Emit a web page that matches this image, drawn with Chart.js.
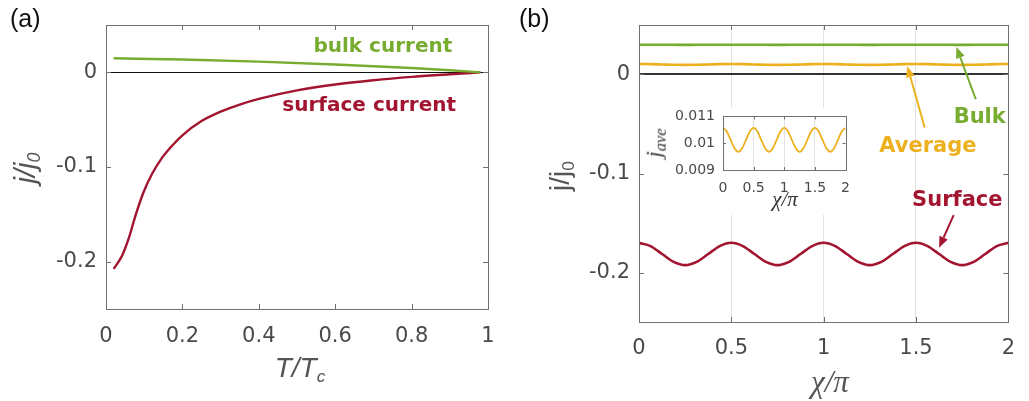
<!DOCTYPE html>
<html>
<head>
<meta charset="utf-8">
<title>surface and bulk current</title>
<script src="https://cdn.jsdelivr.net/npm/chart.js@4.4.1/dist/chart.umd.min.js"></script>
<style>
  body { margin: 0; background: #fff; width: 1029px; height: 401px; position: relative; overflow: hidden; font-family: "Liberation Sans", Arial, sans-serif; }
  .panel { position: absolute; }
  .lbl { position: absolute; white-space: nowrap; line-height: 1; color: #555; }
  .rot { transform: translate(-50%, -50%) rotate(-90deg); }
  .ctr { transform: translate(-50%, -50%); }
  .sub { font-size: 0.62em; vertical-align: -0.3em; }
  .serif { font-family: "Liberation Serif", "DejaVu Serif", serif; font-style: italic; }
</style>
</head>
<body>
<div class="panel" style="left:0;top:0;width:510px;height:401px"><canvas id="chart-a" width="510" height="401"></canvas></div>
<div class="panel" style="left:520px;top:0;width:509px;height:401px"><canvas id="chart-b" width="509" height="401"></canvas></div>
<div class="panel" style="left:655px;top:100px;width:205px;height:115px"><canvas id="chart-inset" width="205" height="115"></canvas></div>

<div class="lbl" style="left:10px;top:6px;font-size:25px;color:#111">(a)</div>
<div class="lbl" style="left:519px;top:6px;font-size:25px;color:#111">(b)</div>
<div class="lbl rot" style="left:27px;top:168px;font-size:29px;font-style:italic">j/j<span class="sub">0</span></div>
<div class="lbl ctr" style="left:300px;top:370px;font-size:28px;font-style:italic">T/T<span class="sub">c</span></div>
<div class="lbl rot" style="left:562px;top:176px;font-size:28px">j/j<span class="sub">0</span></div>
<div class="lbl ctr serif" style="left:830px;top:381px;font-size:31px">χ/π</div>
<div class="lbl rot serif" style="left:656px;top:143px;font-size:22px;color:#333">j<span class="sub" style="font-size:0.75em">ave</span></div>
<div class="lbl ctr serif" style="left:785px;top:199px;font-size:21px;color:#333">χ/π</div>

<script>
// ---- panel (a): current vs temperature ----
const tempX = [0.02, 0.042, 0.059, 0.077, 0.098, 0.12, 0.147, 0.173, 0.2, 0.25, 0.3, 0.35, 0.4, 0.5, 0.6, 0.7, 0.8, 0.9, 0.98];
const surfaceVsT = [-0.2077, -0.1937, -0.176, -0.1516, -0.127, -0.1077, -0.0901, -0.0775, -0.0665, -0.0515, -0.0415, -0.034, -0.028, -0.019, -0.0128, -0.0083, -0.0048, -0.0021, 0];
const bulkTempX = [0.02, 0.2, 0.4, 0.6, 0.8, 0.9, 0.98];
const bulkVsT = [0.0148, 0.0135, 0.0113, 0.0082, 0.0045, 0.0022, 0];
const aXTicks = [0, 0.2, 0.4, 0.6, 0.8, 1];
const aYTicks = [-0.2, -0.1, 0];

// ---- panel (b): current vs phase chi/pi ----
const chi = [0, 0.0625, 0.125, 0.1875, 0.25, 0.3125, 0.375, 0.4375,
  0.5, 0.5625, 0.625, 0.6875, 0.75, 0.8125, 0.875, 0.9375,
  1, 1.0625, 1.125, 1.1875, 1.25, 1.3125, 1.375, 1.4375,
  1.5, 1.5625, 1.625, 1.6875, 1.75, 1.8125, 1.875, 1.9375, 2];
const surfaceVsChi = [-0.1700, -0.1733, -0.1813, -0.1892, -0.1925, -0.1892, -0.1813, -0.1733,
  -0.1700, -0.1733, -0.1813, -0.1892, -0.1925, -0.1892, -0.1813, -0.1733,
  -0.1700, -0.1733, -0.1813, -0.1892, -0.1925, -0.1892, -0.1813, -0.1733,
  -0.1700, -0.1733, -0.1813, -0.1892, -0.1925, -0.1892, -0.1813, -0.1733, -0.1700];
const bulkVsChi = [0.0301, 0.0301, 0.0300, 0.0300, 0.0299, 0.0300, 0.0300, 0.0301,
  0.0301, 0.0301, 0.0300, 0.0300, 0.0299, 0.0300, 0.0300, 0.0301,
  0.0301, 0.0301, 0.0300, 0.0300, 0.0299, 0.0300, 0.0300, 0.0301,
  0.0301, 0.0301, 0.0300, 0.0300, 0.0299, 0.0300, 0.0300, 0.0301, 0.0301];
const averageVsChi = [0.01057, 0.01044, 0.01012, 0.00981, 0.00968, 0.00981, 0.01012, 0.01044,
  0.01057, 0.01044, 0.01012, 0.00981, 0.00968, 0.00981, 0.01012, 0.01044,
  0.01057, 0.01044, 0.01012, 0.00981, 0.00968, 0.00981, 0.01012, 0.01044,
  0.01057, 0.01044, 0.01012, 0.00981, 0.00968, 0.00981, 0.01012, 0.01044, 0.01057];
const bXTicks = [0, 0.5, 1, 1.5, 2];
const bYTicks = [-0.2, -0.1, 0];
const insetYTicks = [0.009, 0.01, 0.011];

const GREEN = "#77AC30";
const RED = "#A2142F";
const ORANGE = "#EDB120";
const TICK_COLOR = "#4a4a4a";
const BOX_COLOR = "#707070";

function zip(xs, ys) {
  return xs.map((x, i) => ({ x: x, y: ys[i] }));
}

// box, inner tick marks, text labels and arrows, placed in data units
const decor = {
  id: "decor",
  beforeDraw(chart, args, opts) {
    if (!opts.background) return;
    const ctx = chart.ctx;
    const a = chart.chartArea;
    ctx.save();
    ctx.fillStyle = "#fff";
    ctx.fillRect(0, a.top - 8, chart.width, chart.height);
    ctx.restore();
  },
  afterDatasetsDraw(chart, args, opts) {
    const ctx = chart.ctx;
    const a = chart.chartArea;
    const xs = chart.scales.x;
    const ys = chart.scales.y;
    const len = opts.tickLen || 5;
    ctx.save();
    ctx.strokeStyle = BOX_COLOR;
    ctx.lineWidth = 1;
    ctx.beginPath();
    xs.ticks.forEach((t) => {
      const px = Math.round(xs.getPixelForValue(t.value)) + 0.5;
      ctx.moveTo(px, a.bottom); ctx.lineTo(px, a.bottom - len);
      ctx.moveTo(px, a.top); ctx.lineTo(px, a.top + len);
    });
    ys.ticks.forEach((t) => {
      const py = Math.round(ys.getPixelForValue(t.value)) + 0.5;
      ctx.moveTo(a.left, py); ctx.lineTo(a.left + len, py);
      ctx.moveTo(a.right, py); ctx.lineTo(a.right - len, py);
    });
    ctx.stroke();
    ctx.strokeRect(Math.round(a.left) + 0.5, Math.round(a.top) + 0.5, Math.round(a.width), Math.round(a.height));

    (opts.arrows || []).forEach((ar) => {
      const x0 = xs.getPixelForValue(ar.from[0]), y0 = ys.getPixelForValue(ar.from[1]);
      const x1 = xs.getPixelForValue(ar.to[0]), y1 = ys.getPixelForValue(ar.to[1]);
      const ang = Math.atan2(y1 - y0, x1 - x0);
      const head = 11, half = 4.5;
      const bx = x1 - head * Math.cos(ang), by = y1 - head * Math.sin(ang);
      ctx.strokeStyle = ar.color;
      ctx.fillStyle = ar.color;
      ctx.lineWidth = 2;
      ctx.beginPath();
      ctx.moveTo(x0, y0); ctx.lineTo(bx, by);
      ctx.stroke();
      ctx.beginPath();
      ctx.moveTo(x1, y1);
      ctx.lineTo(bx + half * Math.sin(ang), by - half * Math.cos(ang));
      ctx.lineTo(bx - half * Math.sin(ang), by + half * Math.cos(ang));
      ctx.closePath();
      ctx.fill();
    });

    (opts.texts || []).forEach((t) => {
      ctx.font = "bold " + t.size + "px 'DejaVu Sans', sans-serif";
      ctx.fillStyle = t.color;
      ctx.textAlign = "left";
      ctx.textBaseline = "middle";
      ctx.fillText(t.text, xs.getPixelForValue(t.x), ys.getPixelForValue(t.y));
    });
    ctx.restore();
  }
};

function axis(opts) {
  return {
    type: "linear",
    min: opts.min,
    max: opts.max,
    afterBuildTicks: (s) => { s.ticks = opts.ticks.map((v) => ({ value: v })); },
    afterFit: (s) => {
      if (opts.width !== undefined) s.width = opts.width;
      if (opts.height !== undefined) s.height = opts.height;
    },
    border: { display: false },
    grid: {
      drawTicks: false,
      color: opts.gridColor || "transparent",
      lineWidth: opts.gridWidth || 1
    },
    ticks: {
      autoSkip: false,
      maxRotation: 0,
      padding: opts.padding,
      color: TICK_COLOR,
      font: { family: "'DejaVu Sans', sans-serif", size: opts.fontSize || 21 },
      callback: (v) => String(v)
    }
  };
}

function line(points, color, width) {
  return {
    data: points,
    borderColor: color,
    borderWidth: width,
    pointRadius: 0,
    fill: false,
    cubicInterpolationMode: "monotone"
  };
}

const common = {
  responsive: false,
  animation: false,
  events: [],
  plugins: { legend: { display: false }, tooltip: { enabled: false } }
};

document.addEventListener("DOMContentLoaded", function () {
  new Chart(document.getElementById("chart-a"), {
    type: "line",
    data: {
      datasets: [
        line(zip(bulkTempX, bulkVsT), GREEN, 2.4),
        line(zip(tempX, surfaceVsT), RED, 2.4)
      ]
    },
    options: Object.assign({}, common, {
      layout: { padding: { top: 25, right: 22, left: 0, bottom: 0 } },
      scales: {
        x: axis({ min: 0, max: 1, ticks: aXTicks, height: 92, padding: 15 }),
        y: axis({
          min: -0.25, max: 0.05, ticks: aYTicks, width: 106, padding: 9,
          gridColor: (c) => (c.tick && c.tick.value === 0 ? "#111" : "transparent")
        })
      },
      plugins: Object.assign({}, common.plugins, {
        decor: {
          texts: [
            { text: "bulk current", x: 0.543, y: 0.027, color: GREEN, size: 20 },
            { text: "surface current", x: 0.4615, y: -0.035, color: RED, size: 20 }
          ]
        }
      })
    }),
    plugins: [decor]
  });

  new Chart(document.getElementById("chart-b"), {
    type: "line",
    data: {
      datasets: [
        line(zip(chi, bulkVsChi), GREEN, 2.6),
        line(zip(chi, averageVsChi), ORANGE, 2.6),
        line(zip(chi, surfaceVsChi), RED, 2.6)
      ]
    },
    options: Object.assign({}, common, {
      layout: { padding: { top: 25, right: 7, left: 0, bottom: 0 } },
      scales: {
        x: axis({
          min: 0, max: 2, ticks: bXTicks, height: 79, padding: 14,
          gridColor: (c) => (c.tick && (c.tick.value === 0 || c.tick.value === 2) ? "transparent" : "#e2e2e2")
        }),
        y: axis({
          min: -0.25, max: 0.05, ticks: bYTicks, width: 119, padding: 9,
          gridColor: (c) => (c.tick && c.tick.value === 0 ? "#333" : "transparent"),
          gridWidth: 2
        })
      },
      plugins: Object.assign({}, common.plugins, {
        decor: {
          arrows: [
            { from: [1.824, -0.025], to: [1.719, 0.0277], color: GREEN },
            { from: [1.547, -0.0535], to: [1.453, 0.0084], color: ORANGE },
            { from: [1.704, -0.142], to: [1.625, -0.175], color: RED }
          ],
          texts: [
            { text: "Bulk", x: 1.704, y: -0.0434, color: GREEN, size: 21 },
            { text: "Average", x: 1.301, y: -0.0728, color: ORANGE, size: 21 },
            { text: "Surface", x: 1.479, y: -0.1276, color: RED, size: 21 }
          ]
        }
      })
    }),
    plugins: [decor]
  });

  new Chart(document.getElementById("chart-inset"), {
    type: "line",
    data: {
      datasets: [line(zip(chi, averageVsChi), ORANGE, 1.8)]
    },
    options: Object.assign({}, common, {
      layout: { padding: { top: 16, right: 12, left: 0, bottom: 0 } },
      scales: {
        x: axis({
          min: 0, max: 2, ticks: bXTicks, height: 45, padding: 10, fontSize: 14,
          gridColor: (c) => (c.tick && (c.tick.value === 0 || c.tick.value === 2) ? "transparent" : "#e2e2e2")
        }),
        y: axis({ min: 0.009, max: 0.011, ticks: insetYTicks, width: 68, padding: 8, fontSize: 14 })
      },
      plugins: Object.assign({}, common.plugins, {
        decor: { background: true, tickLen: 3 }
      })
    }),
    plugins: [decor]
  });
});
</script>
</body>
</html>
